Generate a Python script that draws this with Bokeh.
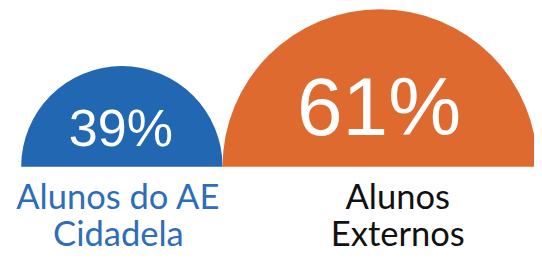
import math
from bokeh.plotting import figure
from bokeh.models import Range1d
from bokeh.core.properties import value
from bokeh.embed import file_html
from bokeh.resources import INLINE

# ---- data ----
categories = ["Alunos do AE Cidadela", "Alunos Externos"]
label_lines = [["Alunos do AE", "Cidadela"], ["Alunos", "Externos"]]
values = [39, 61]
pct_labels = ["39%", "61%"]

# ---- style / layout (units: reference pixels, y measured up from the baseline) ----
fill_colors = ["#2167B2", "#DF6A2F"]
label_colors = ["#2E6DB8", "#111111"]
pct_font_sizes = ["52px", "82px"]
label_font_size = "34.5px"
label_x_shift = [-3.5, 18]
W, H = 534, 253
REF_W, REF_H = 542, 261
baseline = 171.5        # baseline position from the top of the reference
k = 2.62                # reference px per percentage point (radius)
left = 21.0             # left edge of first semicircle
label_line_y = [-29.5, -68.0]   # vertical middle of each label line

centers = []
acc = left
for v in values:
    centers.append(acc + v * k)
    acc += 2 * v * k
radii = [v * k for v in values]

p = figure(width=W, height=H, output_backend="svg", toolbar_location=None,
           x_range=Range1d(0, REF_W),
           y_range=Range1d(baseline - REF_H, baseline),
           x_axis_location=None, y_axis_location=None, min_border=0)
p.grid.visible = False
p.outline_line_color = None
p.background_fill_color = "white"
p.border_fill_color = "white"

p.wedge(x=centers, y=[0] * len(values), radius=radii, radius_units="data",
        start_angle=0, end_angle=math.pi,
        fill_color=fill_colors, line_color=None)

for i, v in enumerate(values):
    p.text(x=[centers[i] - 1], y=[radii[i] * 0.39], text=[pct_labels[i]],
           text_font=value("Liberation Sans"), text_font_size=pct_font_sizes[i],
           text_color="white", text_align="center", text_baseline="middle")
    for j, line in enumerate(label_lines[i]):
        p.text(x=[centers[i] + label_x_shift[i]], y=[label_line_y[j]],
               text=[line], text_font=value("Lato"), text_font_size=label_font_size,
               text_color=label_colors[i], text_align="center",
               text_baseline="middle")

open("out.html", "w").write(file_html(p, INLINE))
